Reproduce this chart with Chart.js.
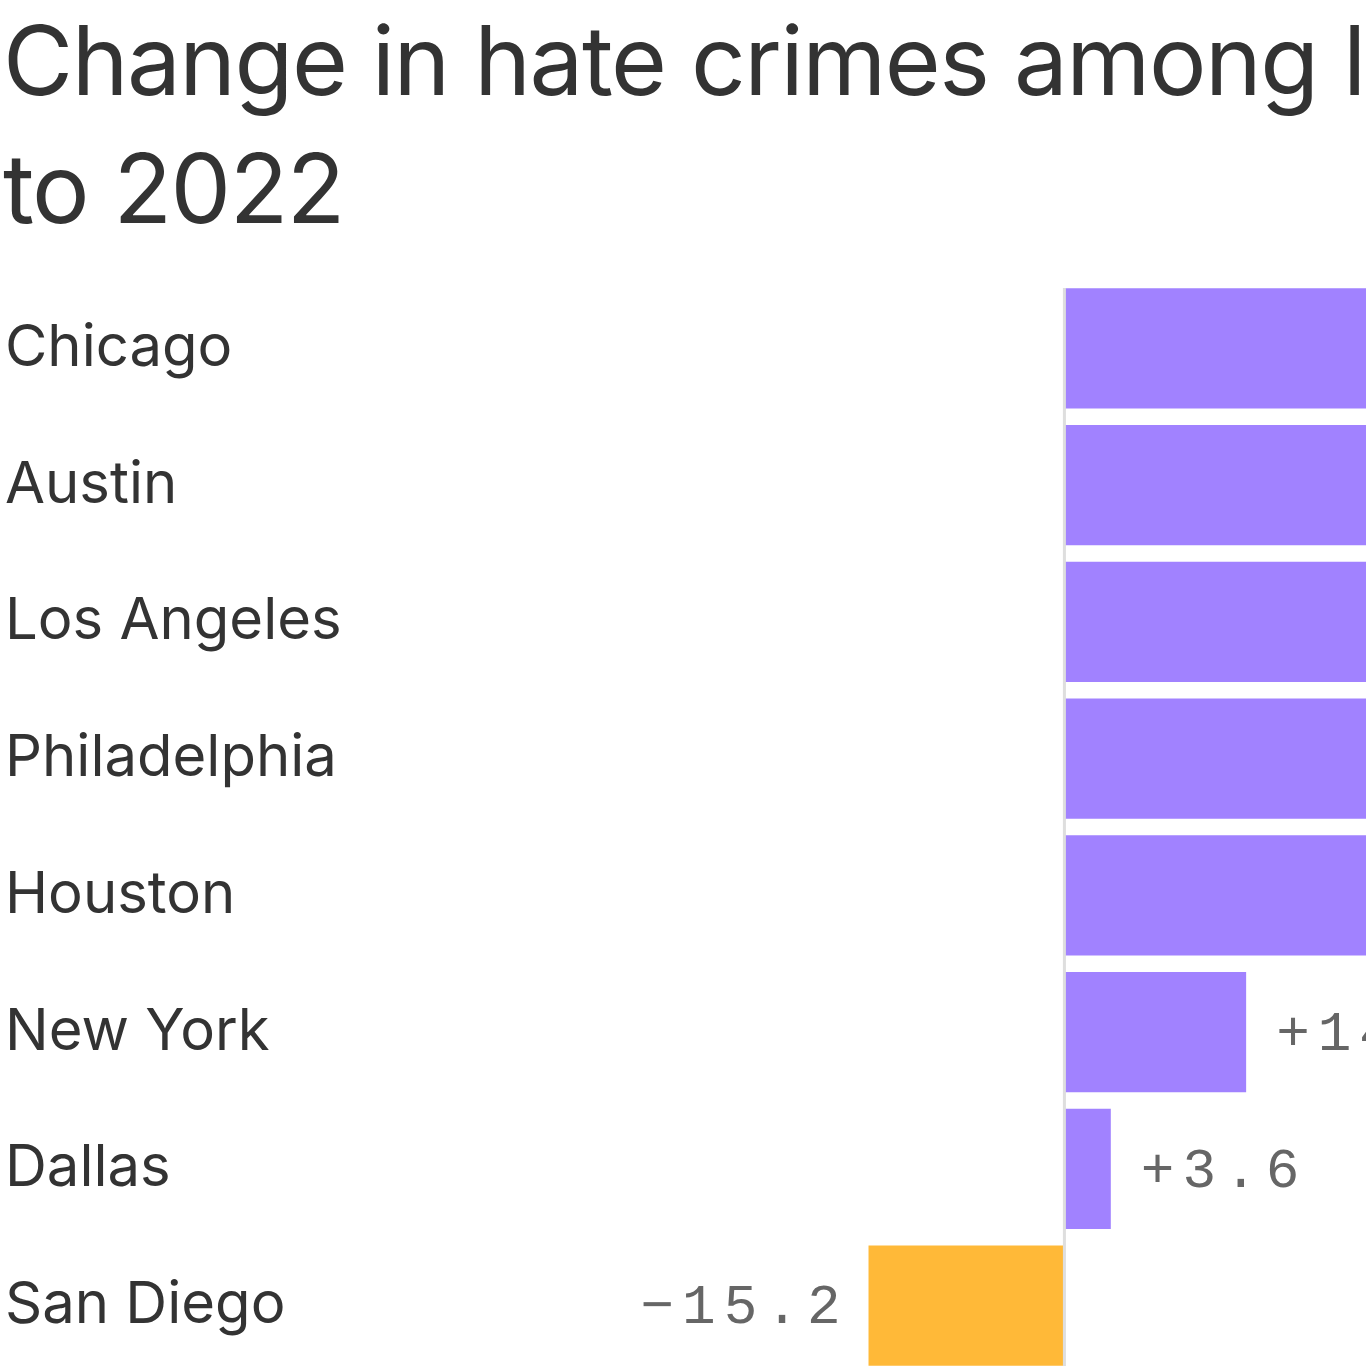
<!DOCTYPE html>
<html>
<head>
<meta charset="utf-8">
<script src="https://cdn.jsdelivr.net/npm/chart.js@4"></script>
<style>
  html, body { margin: 0; padding: 0; width: 1366px; height: 1366px; overflow: hidden; background: #fff; }
  #title {
    position: absolute; left: 3px; top: -4px;
    font-family: Inter, "Noto Sans", sans-serif; font-size: 96px; line-height: 128px;
    color: #333; white-space: nowrap; letter-spacing: -1.5px;
  }
  #wrap { position: absolute; left: 0; top: 280px; }
</style>
</head>
<body>
<div id="title">Change in hate crimes among large U.S. cities, 2021<br>to 2022</div>
<div id="wrap"><canvas id="hateChart" width="1366" height="1094"></canvas></div>
<script>
const cities = ["Chicago", "Austin", "Los Angeles", "Philadelphia", "Houston", "New York", "Dallas", "San Diego"];
const changes = [68.2, 52.5, 41.0, 33.3, 27.1, 14.1, 3.6, -15.2];
const barColors = changes.map(v => v >= 0 ? "#a182ff" : "#ffb938");

const valueLabels = {
  id: "valueLabels",
  afterDatasetsDraw(chart) {
    const ctx = chart.ctx;
    const xs = chart.scales.x;
    const area = chart.chartArea;
    const x0 = xs.getPixelForValue(0);
    ctx.save();
    ctx.strokeStyle = "#dedede";
    ctx.lineWidth = 3;
    ctx.beginPath();
    ctx.moveTo(x0, area.top + 8);
    ctx.lineTo(x0, area.bottom);
    ctx.stroke();

    ctx.font = '56px "Liberation Mono", monospace';
    ctx.letterSpacing = "8px";
    ctx.fillStyle = "#666";
    ctx.textBaseline = "middle";
    chart.getDatasetMeta(0).data.forEach((bar, i) => {
      const v = changes[i];
      const txt = (v >= 0 ? "+" : "\u2212") + Math.abs(v).toFixed(1);
      if (v >= 0) {
        ctx.textAlign = "left";
        ctx.fillText(txt, bar.x + 30, bar.y + 3);
      } else {
        ctx.textAlign = "right";
        ctx.fillText(txt, bar.x - 20, bar.y + 3);
      }
    });
    ctx.restore();
  }
};

new Chart(document.getElementById("hateChart"), {
  type: "bar",
  data: {
    labels: cities,
    datasets: [{
      data: changes,
      backgroundColor: barColors,
      borderWidth: 0,
      categoryPercentage: 1,
      barPercentage: 0.878
    }]
  },
  options: {
    indexAxis: "y",
    responsive: false,
    animation: false,
    devicePixelRatio: 1,
    layout: { autoPadding: false, padding: { left: 5, right: 0, top: 0, bottom: 0 } },
    plugins: { legend: { display: false }, tooltip: { enabled: false }, title: { display: false } },
    scales: {
      x: { display: false, min: -50, max: 23.4 },
      y: {
        grid: { display: false },
        border: { display: false },
        afterFit(scale) {
          scale.width = 415;
          scale.paddingTop = 0;
          scale.paddingBottom = 0;
        },
        ticks: {
          crossAlign: "far",
          color: "#333",
          font: { family: "Inter, 'Noto Sans', sans-serif", size: 58 }
        }
      }
    }
  },
  plugins: [valueLabels]
});
</script>
</body>
</html>
